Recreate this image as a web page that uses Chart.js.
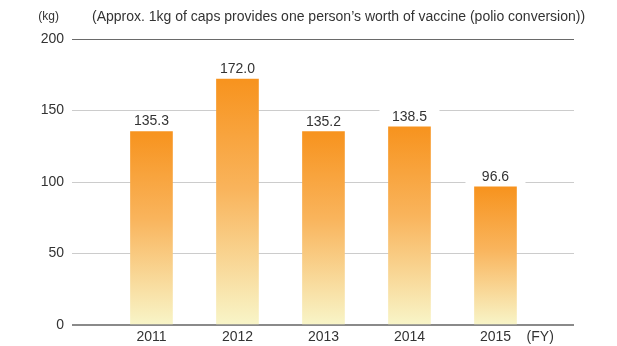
<!DOCTYPE html>
<html>
<head>
<meta charset="utf-8">
<script src="https://cdn.jsdelivr.net/npm/chart.js@4/dist/chart.umd.min.js"></script>
<style>
  html, body { margin: 0; padding: 0; background: #fff; }
  #wrap { width: 617px; height: 346px; position: relative; }
</style>
</head>
<body>
<div id="wrap"><canvas id="capsChart"></canvas></div>
<script>
    const years = [2011, 2012, 2013, 2014, 2015];
    const capsKg = [135.3, 172.0, 135.2, 138.5, 96.6];
    const yTicks = [0, 50, 100, 150, 200];
    const unitLabel = "(kg)";
    const fyLabel = "(FY)";
    const note = "(Approx. 1kg of caps provides one person\u2019s worth of vaccine (polio conversion))";

    const FONT = "Arial, 'Liberation Sans', Helvetica, sans-serif";
    Chart.defaults.font.family = FONT;
    Chart.defaults.color = "#333333";

    // orange-to-cream fade, one gradient per bar
    function barFill(context) {
        const chart = context.chart;
        if (!chart.chartArea || context.raw == null) return "#f7931e";
        const y = chart.scales.y;
        const top = y.getPixelForValue(context.raw.y);
        const base = y.getPixelForValue(0);
        const g = chart.ctx.createLinearGradient(0, top, 0, base);
        g.addColorStop(0, "#f7931e");
        g.addColorStop(0.45, "#f9b45c");
        g.addColorStop(1, "#f8f5c8");
        return g;
    }

    // value labels on a white box so the grid breaks behind them
    const valueLabels = {
        id: "valueLabels",
        afterDatasetsDraw(chart) {
            const ctx = chart.ctx;
            const meta = chart.getDatasetMeta(0);
            ctx.save();
            ctx.font = "14px " + FONT;
            ctx.textAlign = "center";
            ctx.textBaseline = "middle";
            meta.data.forEach((bar, i) => {
                ctx.fillStyle = "#ffffff";
                ctx.fillRect(bar.x - 30, bar.y - 19, 60, 18);
                ctx.fillStyle = "#333333";
                ctx.fillText(capsKg[i].toFixed(1), bar.x, bar.y - 10);
            });
            ctx.restore();
        }
    };

    // unit and note line above the plot
    const headerText = {
        id: "headerText",
        afterDraw(chart) {
            const ctx = chart.ctx;
            const area = chart.chartArea;
            ctx.save();
            ctx.fillStyle = "#333333";
            ctx.textBaseline = "middle";
            ctx.font = "12px " + FONT;
            ctx.textAlign = "right";
            ctx.fillText(unitLabel, area.left - 13, 17);
            ctx.font = "14px " + FONT;
            ctx.textAlign = "left";
            ctx.fillText(note, area.left + 20, 17);
            ctx.restore();
        }
    };

    new Chart(
        document.getElementById("capsChart"),
        {
            type: "bar",
            data: {
                datasets: [{
                    data: years.map((yr, i) => ({ x: yr, y: capsKg[i] })),
                    backgroundColor: barFill,
                    borderWidth: 0,
                    barThickness: 42
                }]
            },
            options: {
                responsive: true,
                maintainAspectRatio: false,
                animation: false,
                events: [],
                layout: { padding: { top: 39, right: 43, left: 0, bottom: 0 } },
                plugins: {
                    legend: { display: false },
                    tooltip: { enabled: false }
                },
                scales: {
                    x: {
                        type: "linear",
                        offset: false,
                        min: 2010.076,
                        max: 2015.913,
                        grid: { display: false, drawTicks: false },
                        border: { display: false },
                        afterBuildTicks(scale) {
                            scale.ticks = years.concat([2015.52]).map(v => ({ value: v }));
                        },
                        afterFit(scale) {
                            scale.height = 21;
                        },
                        ticks: {
                            autoSkip: false,
                            maxRotation: 0,
                            padding: 4,
                            font: { size: 14 },
                            color: "#333333",
                            callback: v => (v > 2015 ? fyLabel : String(v))
                        }
                    },
                    y: {
                        min: 0,
                        max: 200,
                        afterBuildTicks(scale) {
                            scale.ticks = yTicks.map(v => ({ value: v }));
                        },
                        afterFit(scale) {
                            scale.width = 72;
                        },
                        border: { display: false },
                        grid: {
                            drawTicks: false,
                            color: c => (c.tick.value === 0 ? "#8a8a8a" : c.tick.value === 200 ? "#6a6a6a" : "#cccccc"),
                            lineWidth: c => (c.tick.value === 0 ? 2 : 1)
                        },
                        ticks: {
                            padding: 8,
                            font: { size: 14 },
                            color: "#333333"
                        }
                    }
                }
            },
            plugins: [valueLabels, headerText]
        }
    );
</script>
</body>
</html>
